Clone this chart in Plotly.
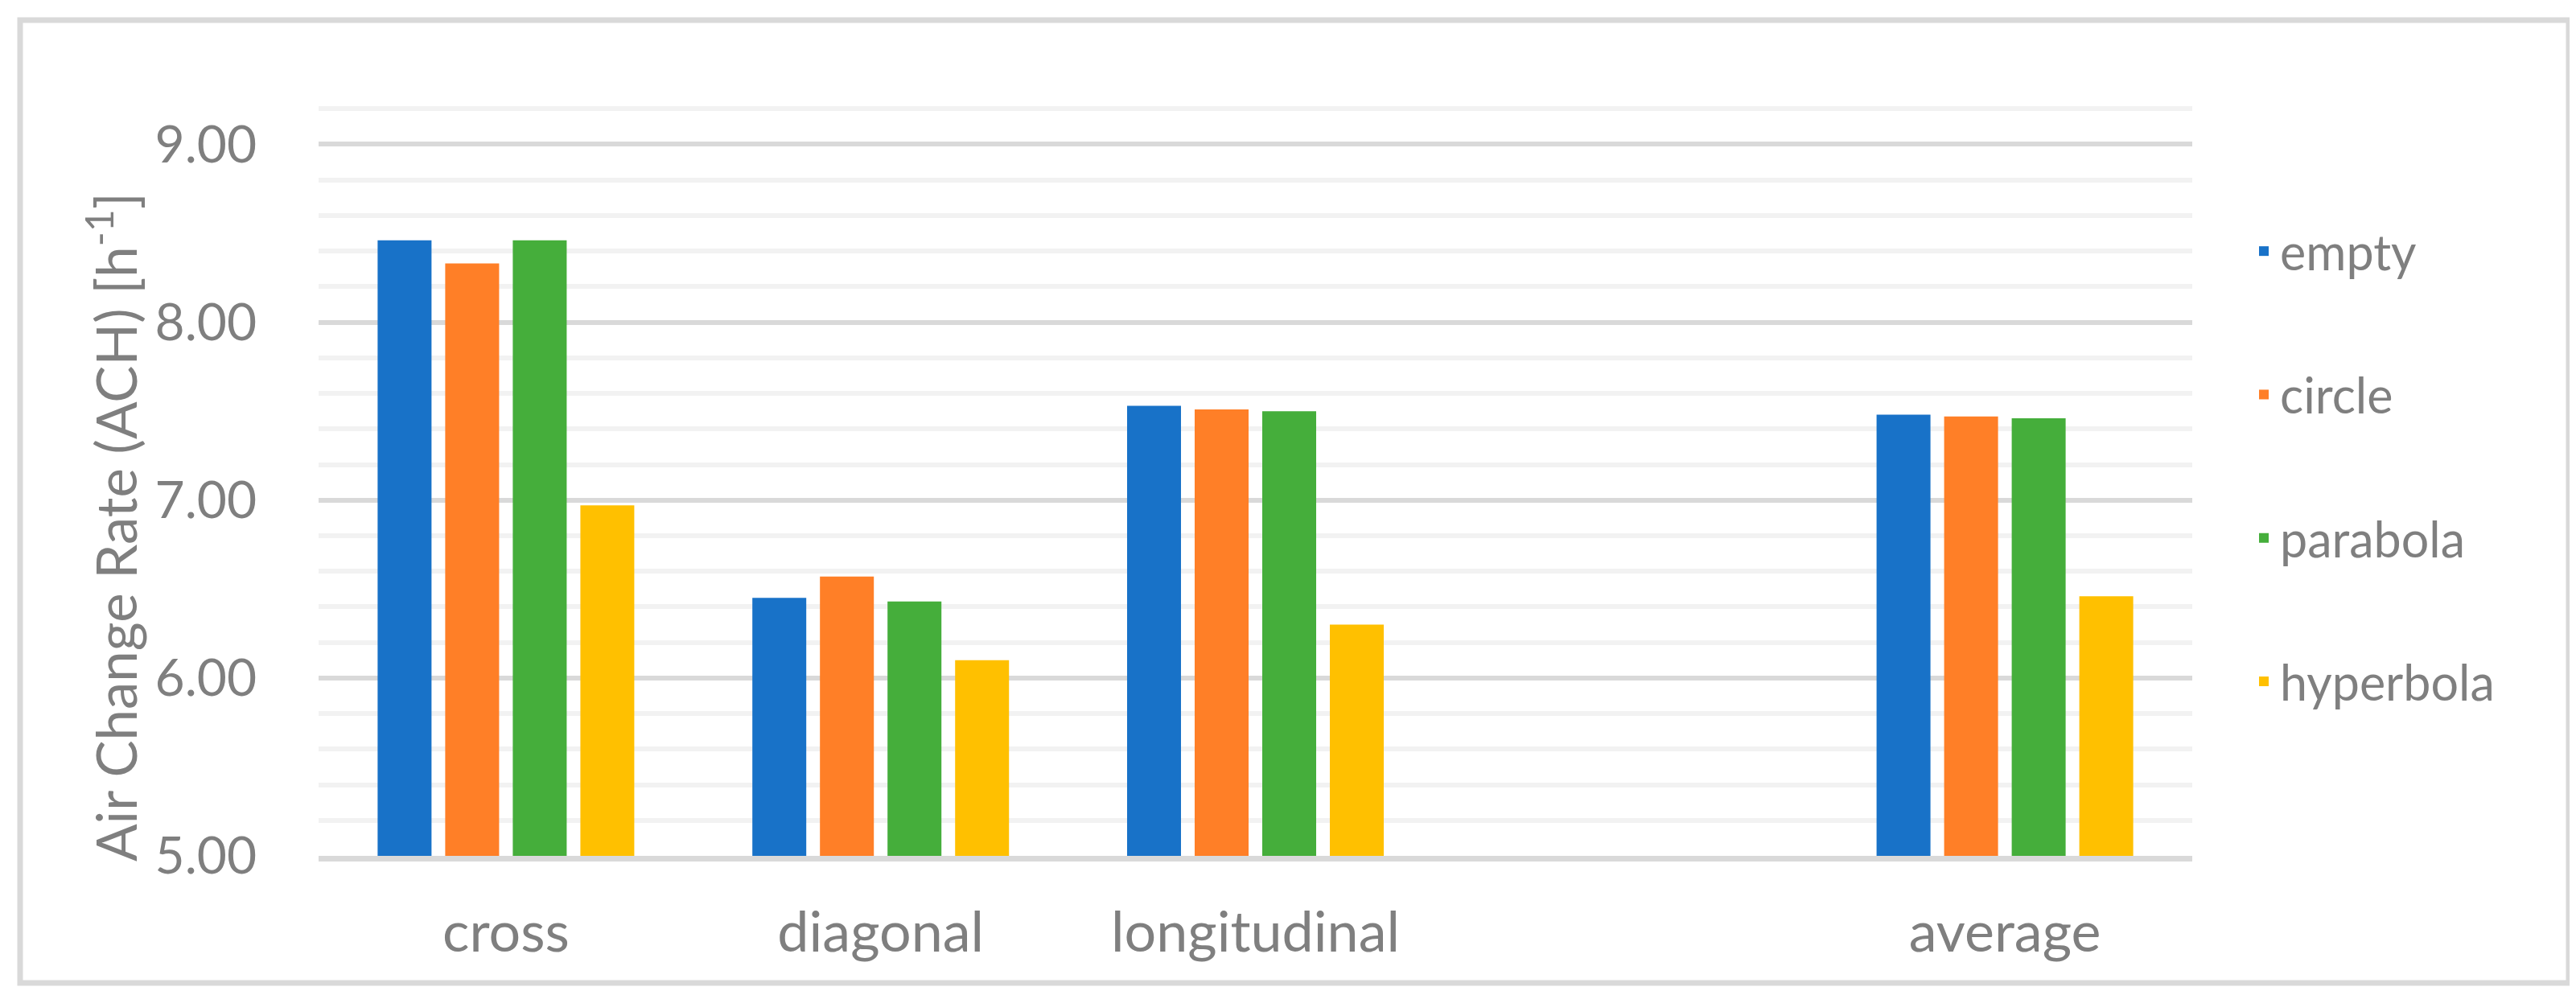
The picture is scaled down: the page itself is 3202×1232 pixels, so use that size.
import plotly.graph_objects as go

categories = ["cross", "diagonal", "longitudinal", " ", "average"]
series_names = ["empty", "circle", "parabola", "hyperbola"]
empty_vals = [8.46, 6.45, 7.53, None, 7.48]
circle_vals = [8.33, 6.57, 7.51, None, 7.47]
parabola_vals = [8.46, 6.43, 7.50, None, 7.46]
hyperbola_vals = [6.97, 6.10, 6.30, None, 6.46]
colors = ["#1872c8", "#ff7f27", "#45ae3b", "#ffc000"]
y_ticks = [5, 6, 7, 8, 9]
y_tick_text = ["5.00", "6.00", "7.00", "8.00", "9.00"]
y_title = "Air Change Rate (ACH) [h<sup>-1</sup>]"

W, H = 3202, 1232
L, R, T, B = 388, 485, 83, 176
FONT = "Lato"
GREY = "#7f7f7f"

fig = go.Figure()
for name, vals, col in zip(series_names,
                           [empty_vals, circle_vals, parabola_vals, hyperbola_vals],
                           colors):
    fig.add_trace(go.Bar(x=categories, y=vals, name=name, marker_color=col,
                         marker_line_width=0, legendgroup=name))

pw = W - L - R
ph = H - T - B
def px_x(p):
    return (p - L) / pw
def px_y(p):
    return (H - B - p) / ph

fig.update_layout(
    width=W, height=H,
    margin=dict(l=L, r=R, t=T, b=B, autoexpand=False),
    paper_bgcolor="white", plot_bgcolor="white",
    barmode="group", bargap=0.2786, bargroupgap=0.2024,
    font=dict(family=FONT, color=GREY, size=66),
    showlegend=True,
    legend=dict(x=px_x(2786), xanchor="left", y=px_y(258), yanchor="top",
                font=dict(size=61, color=GREY, family=FONT),
                tracegroupgap=96, traceorder="grouped",
                bgcolor="rgba(0,0,0,0)", itemwidth=30),
    xaxis=dict(type="category", categoryorder="array", categoryarray=categories,
               showgrid=False, showline=True, linecolor="#d9d9d9", linewidth=7,
               ticks="", tickfont=dict(size=70, color=GREY, family=FONT),
               ticklabelstandoff=28, zeroline=False),
    yaxis=dict(range=[5, 9.4], tickvals=y_ticks, ticktext=y_tick_text,
               showgrid=True, gridcolor="#d9d9d9", gridwidth=6,
               minor=dict(dtick=0.2, showgrid=True, gridcolor="#f2f2f2", gridwidth=6),
               showline=False, zeroline=False, ticks="",
               tickfont=dict(size=64, color=GREY, family=FONT),
               ticklabelstandoff=76),
)

fig.add_annotation(text=y_title, textangle=-90, xref="paper", yref="paper",
                   x=px_x(131), y=px_y(647), xanchor="center", yanchor="middle",
                   showarrow=False, font=dict(size=69, color=GREY, family=FONT))

fig.add_shape(type="rect", xref="paper", yref="paper",
              x0=px_x(17), x1=px_x(3185), y0=px_y(1214), y1=px_y(17),
              line=dict(color="#d9d9d9", width=7), fillcolor="rgba(0,0,0,0)",
              layer="below")

fig.write_html("out.html")
